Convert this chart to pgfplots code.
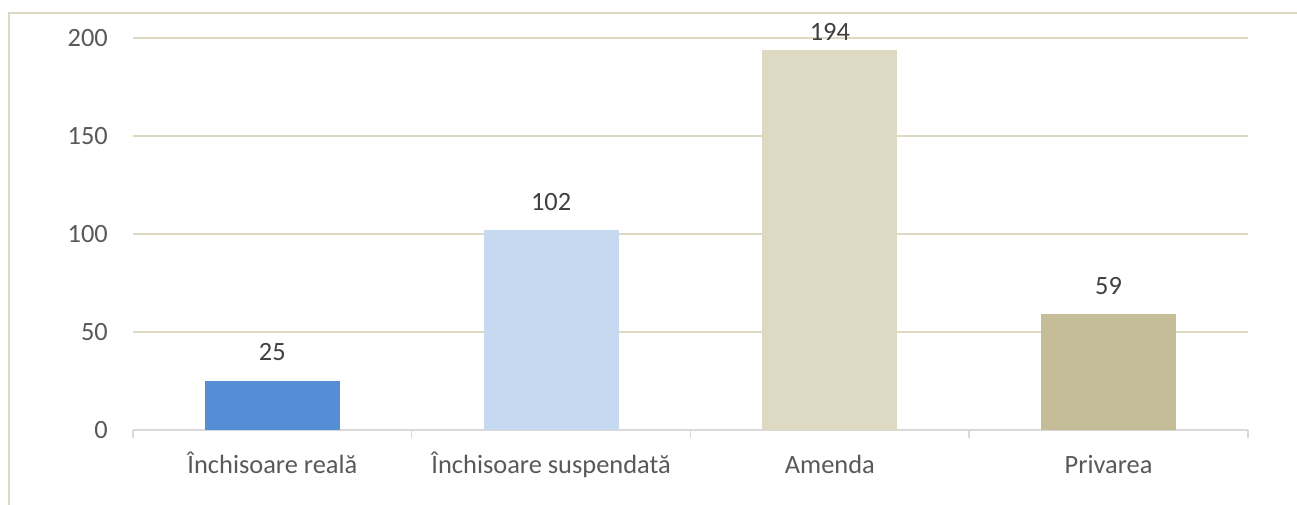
\documentclass[border=0pt]{standalone}
\usepackage{pgfplots}
\pgfplotsset{compat=1.18}
\usepackage{fontspec}
\setmainfont{Carlito}
\definecolor{gridc}{HTML}{DDD9C3}
\definecolor{framec}{HTML}{DDD9C3}
\definecolor{axc}{HTML}{D9D9D9}
\definecolor{txt}{HTML}{595959}
\definecolor{lab}{HTML}{404040}
\definecolor{c1}{HTML}{558ED5}
\definecolor{c2}{HTML}{C6D9F1}
\definecolor{c3}{HTML}{DDD9C3}
\definecolor{c4}{HTML}{C4BD97}
\begin{document}
\begin{tikzpicture}[x=1bp,y=1bp]
\path[use as bounding box] (0,0) rectangle (1297,505);
\fill[white] (0,0) rectangle (1297,505);
\draw[framec, line width=2.5bp] (9,0) -- (9,492) -- (1297,492);
\begin{axis}[
  at={(133bp,75bp)}, anchor=south west,
  scale only axis, width=1115bp, height=392bp,
  xmin=-0.5, xmax=3.5, ymin=0, ymax=200,
  axis x line*=bottom, axis y line*=left,
  x axis line style={axc, line width=1.5bp, -},
  y axis line style={draw=none},
  ytick={0,50,100,150,200},
  ymajorgrids, grid style={gridc, line width=1.5bp},
  xtick={0,1,2,3},
  xticklabels={Închisoare reală, Închisoare suspendată, Amenda, Privarea},
  minor xtick={-0.5,0.5,1.5,2.5,3.5},
  major tick length=0pt,
  minor tick length=8bp,
  tick align=outside,
  minor tick style={axc, line width=1.5bp},
  xticklabel style={font=\fontsize{26.5}{30}\selectfont, text=txt, anchor=base, yshift=-44bp},
  yticklabel style={font=\fontsize{26.5}{30}\selectfont, text=txt, anchor=east, inner sep=0pt, xshift=-25bp},
  /pgf/number format/assume math mode=true,
  bar width=135bp,
  ybar, bar shift=0pt,
  nodes near coords,
  every node near coord/.append style={font=\fontsize{26.5}{30}\selectfont, text=lab, anchor=base, yshift=20bp},
  clip=false,
]
\addplot[fill=c1, draw=none] coordinates {(0,25)};
\addplot[fill=c2, draw=none] coordinates {(1,102)};
\addplot[fill=c3, draw=none, every node near coord/.append style={yshift=-11bp}] coordinates {(2,194)};
\addplot[fill=c4, draw=none] coordinates {(3,59)};
\end{axis}
\end{tikzpicture}
\end{document}
